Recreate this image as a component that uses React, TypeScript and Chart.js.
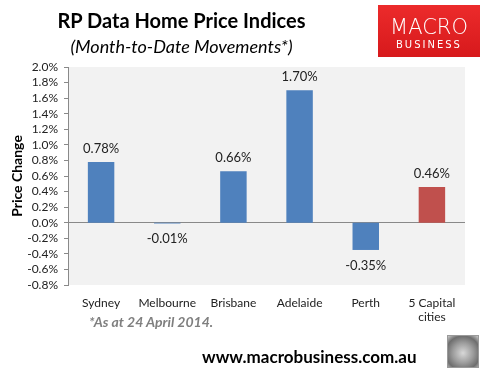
import React, { useEffect, useRef } from "react";
import { Chart, registerables } from "chart.js";

Chart.register(...registerables);

const categories: (string | string[])[] = ["Sydney", "Melbourne", "Brisbane", "Adelaide", "Perth", ["5 Capital", "cities"]];
const values: number[] = [0.78, -0.01, 0.66, 1.7, -0.35, 0.46];
const barColors: string[] = ["#4f81bd", "#4f81bd", "#4f81bd", "#4f81bd", "#4f81bd", "#c0504d"];
const yMin = -0.8;
const yMax = 2.0;
const yStep = 0.2;

const FONT = 'Lato, "Open Sans", sans-serif';

const bgPlugin = {
  id: "plotBg",
  beforeDraw(chart: any) {
    const { ctx, chartArea } = chart;
    ctx.save();
    ctx.fillStyle = "#f2f2f2";
    ctx.fillRect(chartArea.left, chartArea.top, chartArea.right - chartArea.left, chartArea.bottom - chartArea.top);
    ctx.restore();
  },
};

const labelPlugin = {
  id: "dataLabels",
  afterDatasetsDraw(chart: any) {
    const { ctx } = chart;
    const meta = chart.getDatasetMeta(0);
    ctx.save();
    ctx.font = `13px ${FONT}`;
    ctx.fillStyle = "#222";
    ctx.textAlign = "center";
    meta.data.forEach((el: any, i: number) => {
      const v = values[i];
      const txt = v.toFixed(2) + "%";
      if (v >= 0) {
        ctx.textBaseline = "bottom";
        ctx.fillText(txt, el.x, el.y - 7);
      } else {
        ctx.textBaseline = "top";
        ctx.fillText(txt, el.x, el.y + 9);
      }
    });
    ctx.restore();
  },
};

export default function App() {
  const ref = useRef<HTMLCanvasElement>(null);
  useEffect(() => {
    if (!ref.current) return;
    const chart = new Chart(ref.current, {
      type: "bar",
      data: {
        labels: categories,
        datasets: [
          {
            data: values,
            backgroundColor: barColors,
            barPercentage: 0.4,
            categoryPercentage: 1,
          },
        ],
      },
      options: {
        animation: false,
        responsive: false,
        layout: { padding: { top: 67, right: 21, left: 0, bottom: 0 } },
        plugins: { legend: { display: false }, tooltip: { enabled: false } },
        scales: {
          x: {
            grid: { display: false, drawTicks: false },
            border: { display: false },
            ticks: { color: "#222", font: { family: FONT, size: 12 }, padding: 11, maxRotation: 0, autoSkip: false },
            afterFit(scale: any) {
              scale.height = 89;
            },
          },
          y: {
            min: yMin,
            max: yMax,
            ticks: {
              stepSize: yStep,
              autoSkip: false,
              color: "#222",
              font: { family: FONT, size: 12 },
              padding: 6,
              callback: (v: any) => (Math.round(Number(v) * 10) / 10).toFixed(1) + "%",
            },
            grid: {
              color: (c: any) => (c.tick && Math.abs(c.tick.value) < 1e-9 ? "#898989" : "rgba(0,0,0,0)"),
              tickColor: "#898989",
              tickLength: 4,
            },
            border: { display: true, color: "#898989" },
            title: { display: true, text: "Price Change", color: "#000", font: { family: FONT, size: 14, weight: "bold" }, padding: { top: 9, bottom: 4 } },
            afterFit(scale: any) {
              scale.width = 68;
            },
          },
        },
      },
      plugins: [bgPlugin, labelPlugin],
    });
    return () => chart.destroy();
  }, []);

  return (
    <div style={{ position: "absolute", left: 0, top: 0, width: 486, height: 374, background: "#fff", fontFamily: FONT, overflow: "hidden" }}>
      <canvas ref={ref} width={486} height={374} style={{ position: "absolute", left: 0, top: 0 }} />
      <div style={{ position: "absolute", left: 0, width: 363, top: 8, textAlign: "center", fontWeight: "bold", fontSize: 20, color: "#000" }}>
        RP Data Home Price Indices
      </div>
      <div style={{ position: "absolute", left: 0, width: 363, top: 35, textAlign: "center", fontStyle: "italic", fontSize: 18, color: "#000" }}>
        (Month-to-Date Movements*)
      </div>
      <div
        style={{
          position: "absolute",
          left: 378,
          top: 5,
          width: 102,
          height: 52,
          background: "linear-gradient(180deg, #ec2b2b 0%, #d7191c 100%)",
          color: "#fff",
          textAlign: "center",
          fontFamily: '"DejaVu Sans", sans-serif',
        }}
      >
        <div style={{ position: "absolute", left: 0, width: 102, top: 10, fontSize: 21, lineHeight: "24px", fontWeight: 200, letterSpacing: 0 }}>MACRO</div>
        <div style={{ position: "absolute", left: 0, width: 102, top: 33, fontSize: 10, lineHeight: "13px", letterSpacing: 2 }}>BUSINESS</div>
      </div>
      <div style={{ position: "absolute", left: 89, top: 313, fontWeight: "bold", fontStyle: "italic", fontSize: 14, color: "#7f7f7f" }}>
        *As at 24 April 2014.
      </div>
      <div style={{ position: "absolute", left: 202, top: 346, fontWeight: "bold", fontSize: 17, color: "#000" }}>www.macrobusiness.com.au</div>
      <div
        style={{
          position: "absolute",
          left: 447,
          top: 335,
          width: 30,
          height: 31,
          border: "1px solid #9a9a9a",
          background: "radial-gradient(circle at 50% 55%, #d8d8d8 0%, #9c9c9c 45%, #6e6e6e 75%, #c9c9c9 100%)",
        }}
      />
    </div>
  );
}
